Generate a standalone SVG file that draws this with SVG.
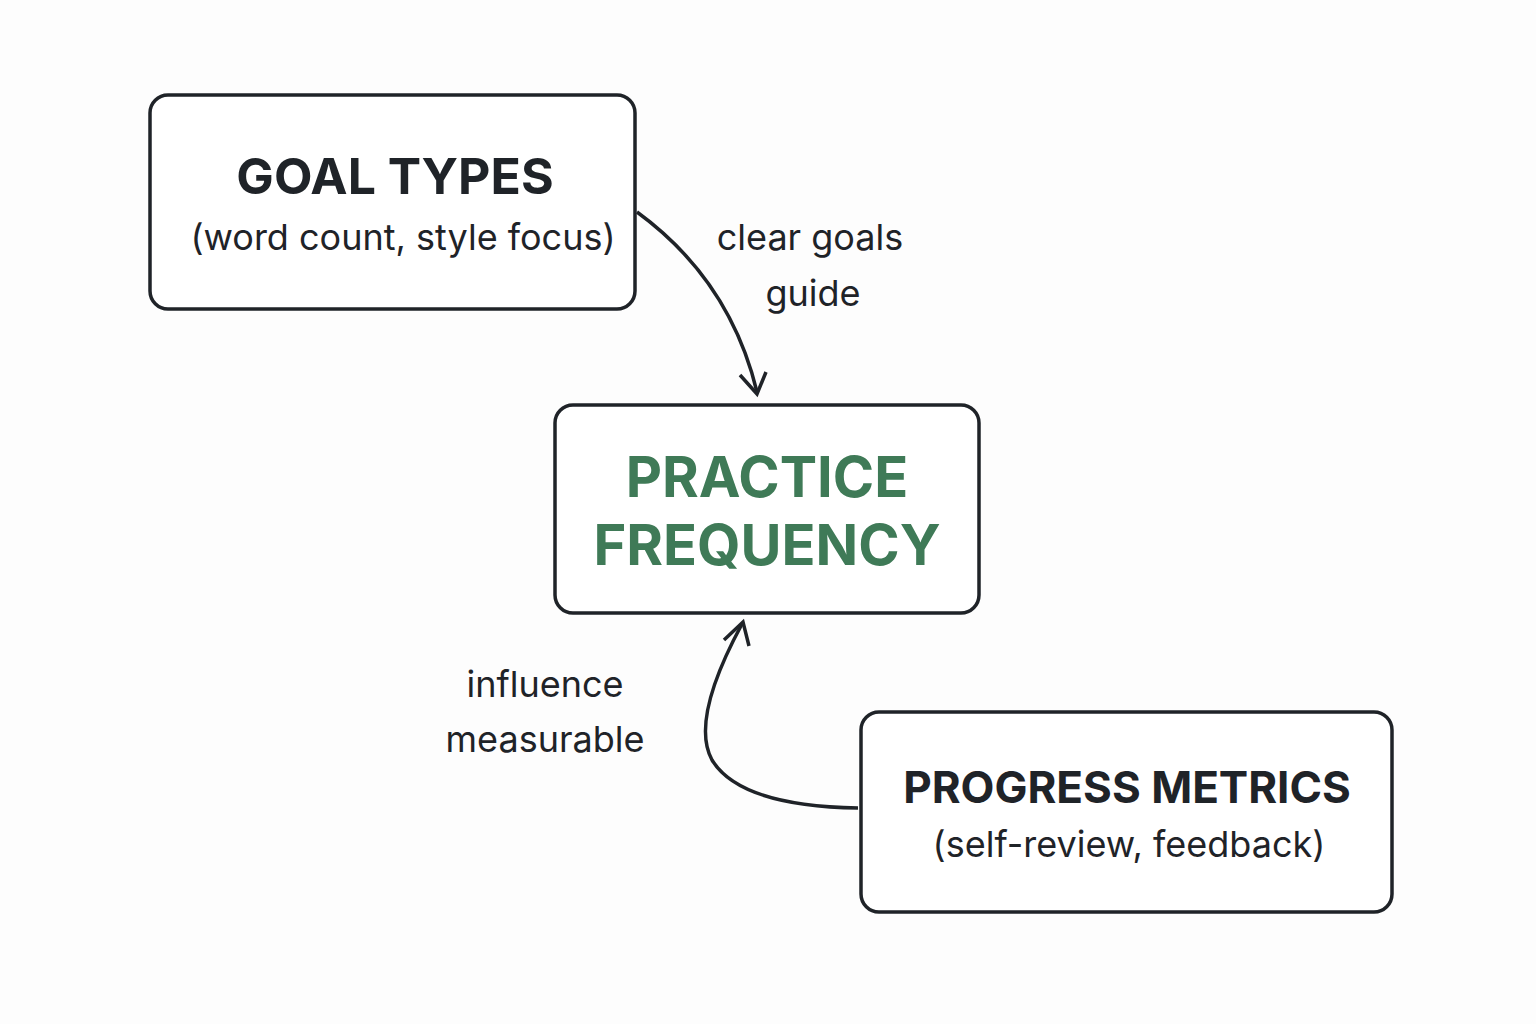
<svg xmlns="http://www.w3.org/2000/svg" width="1536" height="1024" viewBox="0 0 1536 1024">
<defs>
<style>
.box{fill:#fff;stroke:#1f2328;stroke-width:3.5}
.t{font-family:Inter,"Liberation Sans",sans-serif;fill:#1f2328;text-anchor:middle}
.h{font-weight:700;font-size:50px}
.s{font-size:36px}
.g{fill:#3f7a57;font-weight:700;font-size:56px}
.c{fill:none;stroke:#1f2328;stroke-width:3.5}
</style>
<marker id="a" viewBox="0 0 20 20" refX="10" refY="10" markerWidth="9" markerHeight="9" markerUnits="userSpaceOnUse" orient="auto"><path d="M2 2 L10 10 L2 18" fill="none" stroke="#1f2328" stroke-width="3.5"/></marker>
</defs>
<rect width="1536" height="1024" fill="#fdfdfd"/>
<g id="connectors">
<path class="c" d="M637 212 Q730 280 757 392" />
<path d="M740 375 L757 394 L766 372" class="c"/>
<path class="c" d="M858 808 Q740 806 712 760 Q690 720 742 624"/>
<path d="M724 640 L743 622 L749 646" class="c"/>
<text class="t s" x="810" y="250">clear goals</text>
<text class="t s" x="813" y="306">guide</text>
<text class="t s" x="545" y="697">influence</text>
<text class="t s" x="545" y="752">measurable</text>
</g>
<g id="goal"><rect class="box" x="150" y="95" width="485" height="214" rx="18"/>
<text class="t h" x="395" y="194">GOAL TYPES</text>
<text class="t s" x="403" y="250">(word count, style focus)</text></g>
<g id="practice"><rect class="box" x="555" y="405" width="424" height="208" rx="18"/>
<text class="t g" x="767" y="497">PRACTICE</text>
<text class="t g" x="767" y="565">FREQUENCY</text></g>
<g id="progress"><rect class="box" x="861" y="712" width="531" height="200" rx="18"/>
<text class="t" x="1127" y="803" style="font-weight:700;font-size:44px">PROGRESS METRICS</text>
<text class="t s" x="1129" y="857">(self-review, feedback)</text></g>
</svg>
